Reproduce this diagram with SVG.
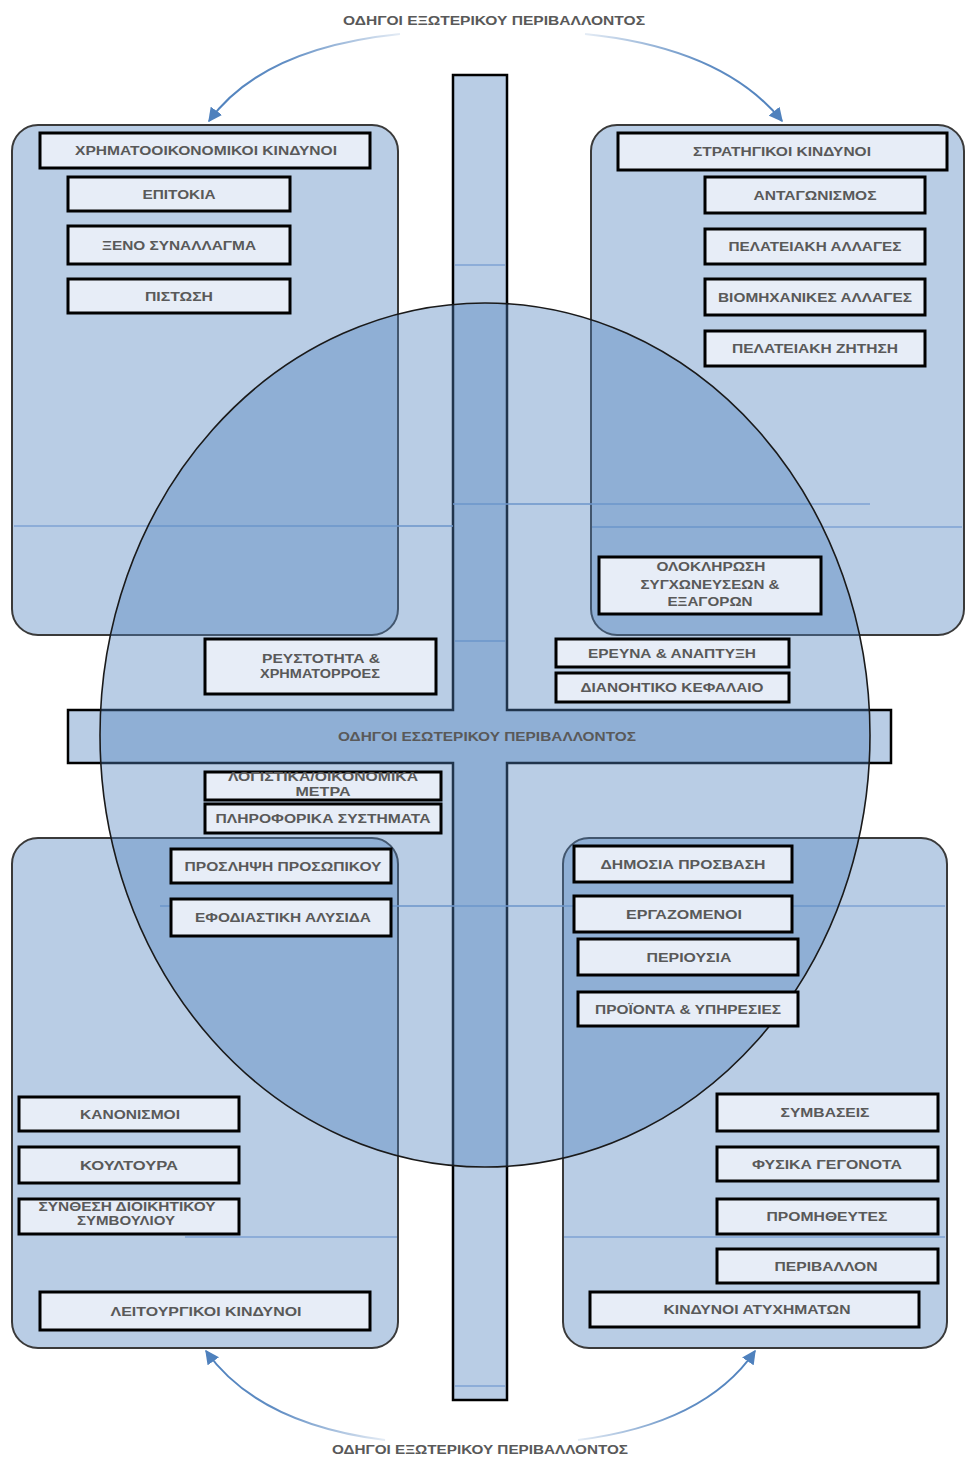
<svg xmlns="http://www.w3.org/2000/svg" width="966" height="1459" viewBox="0 0 966 1459">
<style>
.quad{fill:#b9cde5;stroke:#3a3a3a;stroke-width:2}
.bar{fill:#b9cde5;stroke:#000;stroke-width:2.5}
.circ{fill:#4f81bd;fill-opacity:0.4;stroke:#1a1a1a;stroke-width:1.6}
.item{fill:#e7edf7;stroke:#000;stroke-width:3}
.t{font-family:"Liberation Sans",Arial,sans-serif;font-size:12px;font-weight:bold;fill:#595959;text-anchor:middle}
.band{stroke:#7fa2d3;stroke-width:1.5;fill:none}
.arc{fill:none;stroke-width:2}
</style>
<defs>
<marker id="ah" viewBox="0 0 10 10" refX="9" refY="5" markerWidth="7" markerHeight="7" orient="auto">
<path d="M0,0 L10,5 L0,10 z" fill="#4f81bd"/>
</marker>
<linearGradient id="gL" gradientUnits="userSpaceOnUse" x1="400" y1="0" x2="210" y2="0">
<stop offset="0" stop-color="#4f81bd" stop-opacity="0.15"/><stop offset="0.6" stop-color="#4f81bd" stop-opacity="0.9"/><stop offset="1" stop-color="#4f81bd"/>
</linearGradient>
<linearGradient id="gR" gradientUnits="userSpaceOnUse" x1="585" y1="0" x2="782" y2="0">
<stop offset="0" stop-color="#4f81bd" stop-opacity="0.15"/><stop offset="0.6" stop-color="#4f81bd" stop-opacity="0.9"/><stop offset="1" stop-color="#4f81bd"/>
</linearGradient>
<linearGradient id="gBL" gradientUnits="userSpaceOnUse" x1="385" y1="0" x2="206" y2="0">
<stop offset="0" stop-color="#4f81bd" stop-opacity="0.15"/><stop offset="0.6" stop-color="#4f81bd" stop-opacity="0.9"/><stop offset="1" stop-color="#4f81bd"/>
</linearGradient>
<linearGradient id="gBR" gradientUnits="userSpaceOnUse" x1="578" y1="0" x2="755" y2="0">
<stop offset="0" stop-color="#4f81bd" stop-opacity="0.15"/><stop offset="0.6" stop-color="#4f81bd" stop-opacity="0.9"/><stop offset="1" stop-color="#4f81bd"/>
</linearGradient>
</defs>
<rect width="966" height="1459" fill="#fff"/>

<g id="quadrants">
<rect id="q-financial" class="quad" x="12" y="125" width="386" height="510" rx="26"/>
<rect id="q-strategic" class="quad" x="591" y="125" width="373" height="510" rx="26"/>
<rect id="q-operational" class="quad" x="12" y="838" width="386" height="510" rx="26"/>
<rect id="q-hazard" class="quad" x="563" y="838" width="384" height="510" rx="26"/>
</g>

<g id="cross">
<path class="bar" d="M453 75 H507 V710 H891 V763 H507 V1400 H453 V763 H68 V710 H453 Z"/>
</g>

<g id="bands">
<line class="band" x1="455" y1="265" x2="505" y2="265"/>
<line class="band" x1="14" y1="526" x2="453" y2="526"/>
<line class="band" x1="453" y1="504" x2="870" y2="504"/>
<line class="band" x1="592" y1="527" x2="962" y2="527"/>
<line class="band" x1="455" y1="641" x2="505" y2="641"/>
<line class="band" x1="160" y1="906" x2="945" y2="906"/>
<line class="band" x1="185" y1="1237" x2="397" y2="1237"/>
<line class="band" x1="564" y1="1237" x2="945" y2="1237"/>
<line class="band" x1="455" y1="1386" x2="505" y2="1386"/>
</g>

<g id="internal-circle">
<ellipse class="circ" cx="485" cy="735" rx="385" ry="432"/>
</g>

<g id="center-label">
<text class="t" x="487" y="740.5" textLength="298" lengthAdjust="spacingAndGlyphs">ΟΔΗΓΟΙ ΕΣΩΤΕΡΙΚΟΥ ΠΕΡΙΒΑΛΛΟΝΤΟΣ</text>
</g>

<g id="ext-top"><text class="t" x="494" y="24.5" textLength="302" lengthAdjust="spacingAndGlyphs">ΟΔΗΓΟΙ ΕΞΩΤΕΡΙΚΟΥ ΠΕΡΙΒΑΛΛΟΝΤΟΣ</text></g>
<g id="ext-bottom"><text class="t" x="480" y="1453.5" textLength="296" lengthAdjust="spacingAndGlyphs">ΟΔΗΓΟΙ ΕΞΩΤΕΡΙΚΟΥ ΠΕΡΙΒΑΛΛΟΝΤΟΣ</text></g>

<g id="n-financial"><rect class="item" x="40" y="133" width="330" height="35"/><text class="t" x="206" y="155" textLength="262" lengthAdjust="spacingAndGlyphs">ΧΡΗΜΑΤΟΟΙΚΟΝΟΜΙΚΟΙ ΚΙΝΔΥΝΟΙ</text></g>
<g id="n-interest"><rect class="item" x="68" y="177" width="222" height="34"/><text class="t" x="179" y="198.5" textLength="73" lengthAdjust="spacingAndGlyphs">ΕΠΙΤΟΚΙΑ</text></g>
<g id="n-fx"><rect class="item" x="68" y="226" width="222" height="38"/><text class="t" x="179" y="249.5" textLength="154" lengthAdjust="spacingAndGlyphs">ΞΕΝΟ ΣΥΝΑΛΛΑΓΜΑ</text></g>
<g id="n-credit"><rect class="item" x="68" y="279" width="222" height="34"/><text class="t" x="179" y="300.5" textLength="68" lengthAdjust="spacingAndGlyphs">ΠΙΣΤΩΣΗ</text></g>

<g id="n-strategic"><rect class="item" x="618" y="133" width="329" height="37"/><text class="t" x="782" y="156" textLength="178" lengthAdjust="spacingAndGlyphs">ΣΤΡΑΤΗΓΙΚΟΙ ΚΙΝΔΥΝΟΙ</text></g>
<g id="n-competition"><rect class="item" x="705" y="177" width="220" height="36"/><text class="t" x="815" y="199.5" textLength="123" lengthAdjust="spacingAndGlyphs">ΑΝΤΑΓΩΝΙΣΜΟΣ</text></g>
<g id="n-customer-changes"><rect class="item" x="705" y="229" width="220" height="35"/><text class="t" x="815" y="251" textLength="173" lengthAdjust="spacingAndGlyphs">ΠΕΛΑΤΕΙΑΚΗ ΑΛΛΑΓΕΣ</text></g>
<g id="n-industry"><rect class="item" x="705" y="279" width="220" height="36"/><text class="t" x="815" y="301.5" textLength="194" lengthAdjust="spacingAndGlyphs">ΒΙΟΜΗΧΑΝΙΚΕΣ ΑΛΛΑΓΕΣ</text></g>
<g id="n-demand"><rect class="item" x="705" y="331" width="220" height="35"/><text class="t" x="815" y="353" textLength="166" lengthAdjust="spacingAndGlyphs">ΠΕΛΑΤΕΙΑΚΗ ΖΗΤΗΣΗ</text></g>

<g id="n-ma"><rect class="item" x="599" y="557" width="222" height="57"/>
<text class="t" x="711" y="571" textLength="109" lengthAdjust="spacingAndGlyphs">ΟΛΟΚΛΗΡΩΣΗ</text>
<text class="t" x="710" y="589" textLength="139" lengthAdjust="spacingAndGlyphs">ΣΥΓΧΩΝΕΥΣΕΩΝ &amp;</text>
<text class="t" x="710" y="606" textLength="85" lengthAdjust="spacingAndGlyphs">ΕΞΑΓΟΡΩΝ</text></g>
<g id="n-rd"><rect class="item" x="556" y="639" width="233" height="28"/><text class="t" x="672" y="657.5" textLength="168" lengthAdjust="spacingAndGlyphs">ΕΡΕΥΝΑ &amp; ΑΝΑΠΤΥΞΗ</text></g>
<g id="n-ip"><rect class="item" x="556" y="673" width="233" height="29"/><text class="t" x="672" y="692" textLength="183" lengthAdjust="spacingAndGlyphs">ΔΙΑΝΟΗΤΙΚΟ ΚΕΦΑΛΑΙΟ</text></g>
<g id="n-liquidity"><rect class="item" x="205" y="639" width="231" height="55"/>
<text class="t" x="321" y="663" textLength="118" lengthAdjust="spacingAndGlyphs">ΡΕΥΣΤΟΤΗΤΑ &amp;</text>
<text class="t" x="320" y="678" textLength="120" lengthAdjust="spacingAndGlyphs">ΧΡΗΜΑΤΟΡΡΟΕΣ</text></g>

<g id="n-accounting"><rect class="item" x="205" y="772" width="236" height="28"/>
<text class="t" x="323" y="781" textLength="190" lengthAdjust="spacingAndGlyphs">ΛΟΓΙΣΤΙΚΑ/ΟΙΚΟΝΟΜΙΚΑ</text>
<text class="t" x="323" y="796" textLength="55" lengthAdjust="spacingAndGlyphs">ΜΕΤΡΑ</text></g>
<g id="n-is"><rect class="item" x="205" y="804" width="236" height="29"/><text class="t" x="323" y="823" textLength="215" lengthAdjust="spacingAndGlyphs">ΠΛΗΡΟΦΟΡΙΚΑ ΣΥΣΤΗΜΑΤΑ</text></g>
<g id="n-recruitment"><rect class="item" x="171" y="849" width="220" height="34"/><text class="t" x="283" y="870.5" textLength="197" lengthAdjust="spacingAndGlyphs">ΠΡΟΣΛΗΨΗ ΠΡΟΣΩΠΙΚΟΥ</text></g>
<g id="n-supply"><rect class="item" x="171" y="899" width="220" height="37"/><text class="t" x="283" y="922" textLength="176" lengthAdjust="spacingAndGlyphs">ΕΦΟΔΙΑΣΤΙΚΗ ΑΛΥΣΙΔΑ</text></g>
<g id="n-regulation"><rect class="item" x="19" y="1097" width="220" height="34"/><text class="t" x="130" y="1118.5" textLength="100" lengthAdjust="spacingAndGlyphs">ΚΑΝΟΝΙΣΜΟΙ</text></g>
<g id="n-culture"><rect class="item" x="19" y="1147" width="220" height="36"/><text class="t" x="129" y="1169.5" textLength="98" lengthAdjust="spacingAndGlyphs">ΚΟΥΛΤΟΥΡΑ</text></g>
<g id="n-board"><rect class="item" x="19" y="1199" width="220" height="35"/>
<text class="t" x="127" y="1211" textLength="177" lengthAdjust="spacingAndGlyphs">ΣΥΝΘΕΣΗ ΔΙΟΙΚΗΤΙΚΟΥ</text>
<text class="t" x="126" y="1225" textLength="98" lengthAdjust="spacingAndGlyphs">ΣΥΜΒΟΥΛΙΟΥ</text></g>
<g id="n-operational"><rect class="item" x="40" y="1292" width="330" height="38"/><text class="t" x="206" y="1315.5" textLength="191" lengthAdjust="spacingAndGlyphs">ΛΕΙΤΟΥΡΓΙΚΟΙ ΚΙΝΔΥΝΟΙ</text></g>

<g id="n-public"><rect class="item" x="574" y="846" width="218" height="36"/><text class="t" x="683" y="868.5" textLength="165" lengthAdjust="spacingAndGlyphs">ΔΗΜΟΣΙΑ ΠΡΟΣΒΑΣΗ</text></g>
<g id="n-employees"><rect class="item" x="574" y="896" width="218" height="36"/><text class="t" x="684" y="918.5" textLength="116" lengthAdjust="spacingAndGlyphs">ΕΡΓΑΖΟΜΕΝΟΙ</text></g>
<g id="n-property"><rect class="item" x="578" y="939" width="220" height="36"/><text class="t" x="689" y="961.5" textLength="85" lengthAdjust="spacingAndGlyphs">ΠΕΡΙΟΥΣΙΑ</text></g>
<g id="n-products"><rect class="item" x="578" y="992" width="220" height="34"/><text class="t" x="688" y="1013.5" textLength="186" lengthAdjust="spacingAndGlyphs">ΠΡΟΪΟΝΤΑ &amp; ΥΠΗΡΕΣΙΕΣ</text></g>
<g id="n-contracts"><rect class="item" x="717" y="1094" width="221" height="37"/><text class="t" x="825" y="1117" textLength="89" lengthAdjust="spacingAndGlyphs">ΣΥΜΒΑΣΕΙΣ</text></g>
<g id="n-natural"><rect class="item" x="717" y="1147" width="221" height="34"/><text class="t" x="827" y="1168.5" textLength="150" lengthAdjust="spacingAndGlyphs">ΦΥΣΙΚΑ ΓΕΓΟΝΟΤΑ</text></g>
<g id="n-suppliers"><rect class="item" x="717" y="1199" width="221" height="35"/><text class="t" x="827" y="1221" textLength="121" lengthAdjust="spacingAndGlyphs">ΠΡΟΜΗΘΕΥΤΕΣ</text></g>
<g id="n-environment"><rect class="item" x="717" y="1249" width="221" height="34"/><text class="t" x="826" y="1270.5" textLength="103" lengthAdjust="spacingAndGlyphs">ΠΕΡΙΒΑΛΛΟΝ</text></g>
<g id="n-hazard"><rect class="item" x="590" y="1292" width="329" height="35"/><text class="t" x="757" y="1314" textLength="187" lengthAdjust="spacingAndGlyphs">ΚΙΝΔΥΝΟΙ ΑΤΥΧΗΜΑΤΩΝ</text></g>

<g id="connectors">
<path class="arc" stroke="url(#gL)" d="M400 34 Q262 48 209 121" marker-end="url(#ah)"/>
<path class="arc" stroke="url(#gR)" d="M585 34 Q723 48 782 121" marker-end="url(#ah)"/>
<path class="arc" stroke="url(#gBL)" d="M385 1440 Q258 1424 206 1351" marker-end="url(#ah)"/>
<path class="arc" stroke="url(#gBR)" d="M578 1440 Q705 1424 755 1351" marker-end="url(#ah)"/>
</g>
</svg>
